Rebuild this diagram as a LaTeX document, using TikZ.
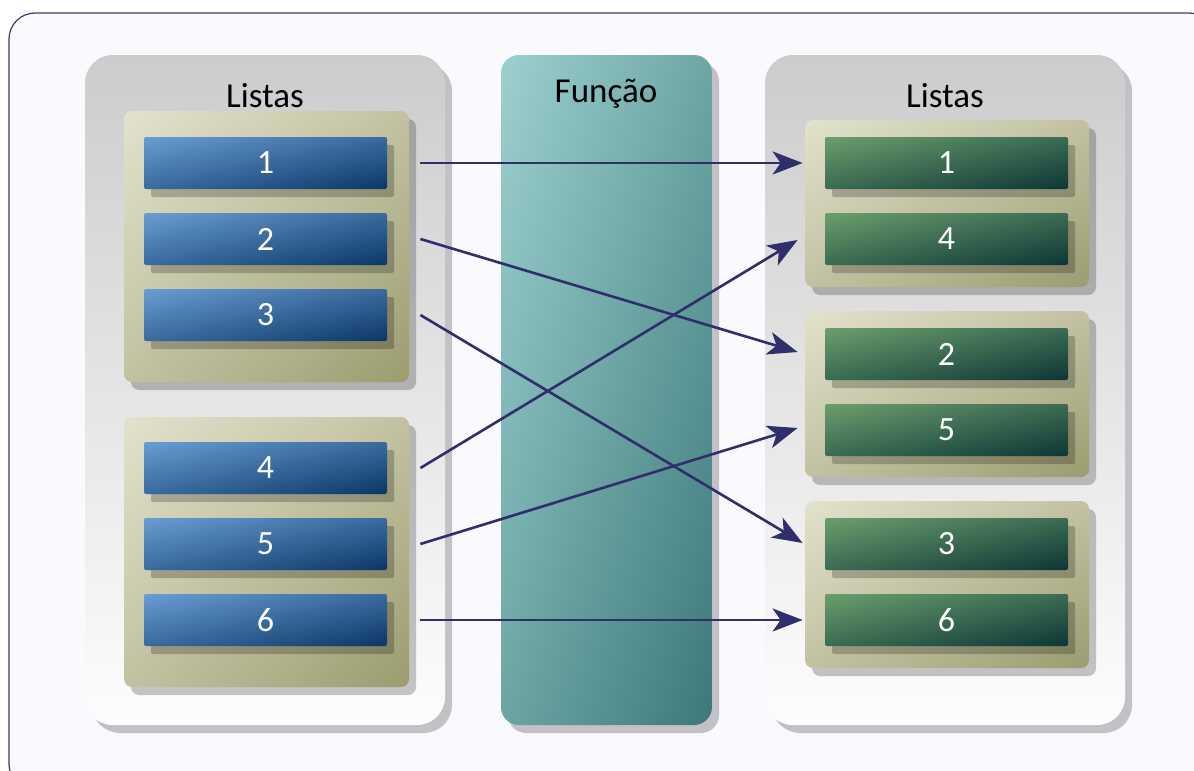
\documentclass[tikz,border=0pt]{standalone}
\usepackage{fontspec}
\setmainfont{Carlito}
\usetikzlibrary{arrows.meta,shadows,shadings,calc}
\definecolor{bgc}{HTML}{F9F9FE}
\definecolor{framec}{HTML}{3A3A6E}
\definecolor{arrc}{HTML}{2F2F6B}
\definecolor{pantop}{HTML}{CCCCCC}
\definecolor{panbot}{HTML}{FDFDFD}
\definecolor{tealA}{HTML}{9DD0D0}
\definecolor{tealM}{HTML}{6DA5A5}
\definecolor{tealB}{HTML}{3D7878}
\definecolor{oliveA}{HTML}{E2E2CE}
\definecolor{oliveM}{HTML}{C2C2A2}
\definecolor{oliveB}{HTML}{9C9C70}
\definecolor{blueA}{HTML}{6A9DD3}
\definecolor{blueM}{HTML}{3A6A9E}
\definecolor{blueB}{HTML}{0B3766}
\definecolor{greenA}{HTML}{6C9E6C}
\definecolor{greenM}{HTML}{3B6B52}
\definecolor{greenB}{HTML}{0C3636}
\tikzset{
  shd/.style={drop shadow={shadow xshift=3.5pt,shadow yshift=-4pt,fill=black,opacity=0.22}},
  panel/.style={shd,rectangle,rounded corners=14pt,inner sep=0pt,
    minimum width=180pt,minimum height=335pt,top color=pantop,bottom color=panbot},
  midpanel/.style={shd,rectangle,rounded corners=9pt,inner sep=0pt,
    minimum width=105.5pt,minimum height=335pt,
    upper left=tealA,upper right=tealM,lower left=tealM,lower right=tealB},
  group/.style={shd,rectangle,rounded corners=4pt,inner sep=0pt,
    minimum width=142.5pt,
    upper left=oliveA,upper right=oliveM,lower left=oliveM,lower right=oliveB},
  itembox/.style={shd,rectangle,rounded corners=1pt,inner sep=0pt,
    minimum width=121.5pt,minimum height=26pt,text=white,
    font=\fontsize{17}{20}\selectfont},
  bluebox/.style={itembox,upper left=blueA,upper right=blueM,lower left=blueM,lower right=blueB},
  greenbox/.style={itembox,upper left=greenA,upper right=greenM,lower left=greenM,lower right=greenB},
  ttl/.style={anchor=base,inner sep=0pt,font=\fontsize{17.5}{21}\selectfont},
  arr/.style={draw=arrc,line width=1.3pt,-{Stealth[length=15pt,width=11.5pt,inset=4pt]}}
}
\begin{document}
\begin{tikzpicture}[x=0.5pt,y=-0.5pt]
\useasboundingbox (0,0) rectangle (1194,771);
\fill[white] (0,0) rectangle (1194,771);
\draw[framec,fill=bgc,line width=0.6pt,rounded corners=13pt] (9,13) rectangle (1215,790);

% panels
\node[panel] (pl) at (265,390) {};
\node[midpanel] (pm) at (606.5,390) {};
\node[panel] (pr) at (945,390) {};

\node[ttl] (tl) at (265,107) {Listas};
\node[ttl] (tm) at (606,102) {Função};
\node[ttl] (tr) at (945,107) {Listas};

% left groups
\node[group,minimum height=135.5pt] (g1) at (266.5,246.5) {};
\node[group,minimum height=135pt] (g2) at (266.5,552) {};
% right groups
\node[group,minimum width=142pt,minimum height=83.5pt] (ga) at (947,203.5) {};
\node[group,minimum width=142pt,minimum height=83pt] (gb) at (947,394) {};
\node[group,minimum width=142pt,minimum height=83.5pt] (gc) at (947,584.5) {};

% left boxes
\node[bluebox] (l1) at (265.5,163) {1};
\node[bluebox] (l2) at (265.5,239) {2};
\node[bluebox] (l3) at (265.5,315) {3};
\node[bluebox] (l4) at (265.5,468) {4};
\node[bluebox] (l5) at (265.5,544) {5};
\node[bluebox] (l6) at (265.5,620) {6};
% right boxes
\node[greenbox] (r1) at (946.5,163) {1};
\node[greenbox] (r4) at (946.5,239) {4};
\node[greenbox] (r2) at (946.5,354) {2};
\node[greenbox] (r5) at (946.5,430) {5};
\node[greenbox] (r3) at (946.5,544) {3};
\node[greenbox] (r6) at (946.5,620) {6};

% arrows
\draw[arr] ([xshift=16.5pt]l1.east) -- ([xshift=-1pt]r1.west -| ga.west);
\draw[arr] ([xshift=16.5pt]l2.east) -- ([xshift=-3.5pt,yshift=1pt]r2.west -| gb.west);
\draw[arr] ([xshift=16.5pt]l3.east) -- ([xshift=-1pt,yshift=0.5pt]r3.west -| gc.west);
\draw[arr] ([xshift=16.5pt]l4.east) -- ([xshift=-3.5pt,yshift=-0.5pt]r4.west -| ga.west);
\draw[arr] ([xshift=16.5pt]l5.east) -- ([xshift=-3.5pt,yshift=1pt]r5.west -| gb.west);
\draw[arr] ([xshift=16.5pt]l6.east) -- ([xshift=-1pt]r6.west -| gc.west);
\end{tikzpicture}
\end{document}
